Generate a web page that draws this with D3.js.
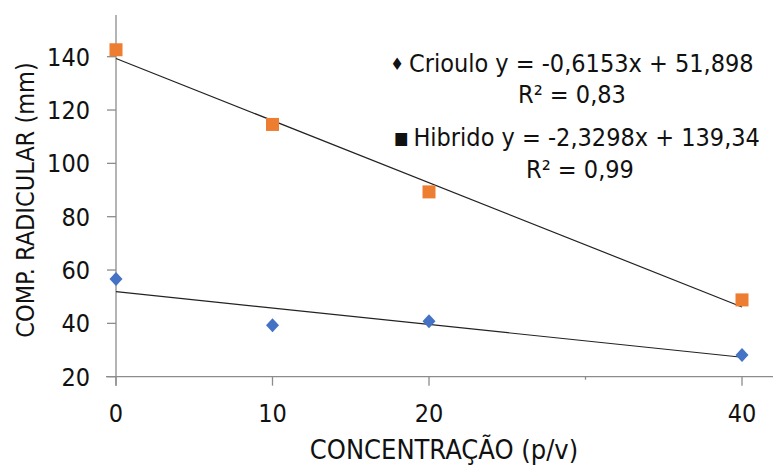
<!DOCTYPE html>
<html>
<head>
<meta charset="utf-8">
<script src="https://cdn.jsdelivr.net/npm/d3@7"></script>
<style>
  body { margin: 0; background: #fff; }
  svg text { font-family: "DejaVu Sans Condensed", "DejaVu Sans", sans-serif; fill: #111; }
</style>
</head>
<body>
<div id="graphArea"></div>
<script>
const width = 773, height = 466
// concentrations (p/v)
const concentracao = [0, 10, 20, 40]
const xTicks = [0, 10, 20, 30, 40]
const xLabels = ["0", "10", "20", "", "40"]
const yTicks = [20, 40, 60, 80, 100, 120, 140]
// measured root length (mm)
const crioulo = [56.6, 39.3, 40.8, 28.1]
const hibrido = [142.6, 114.6, 89.3, 48.8]
// trendline coefficients from the legend
const criouloFit = [-0.6153, 51.898]
const hibridoFit = [-2.3298, 139.34]
const legendSymbols = ["\u2666 ", "", "\u25a0 ", ""]
const legendLines = [
  "Crioulo y = -0,6153x + 51,898",
  "R\u00b2 = 0,83",
  "Hibrido y = -2,3298x + 139,34",
  "R\u00b2 = 0,99"
]

const svg = d3.select("#graphArea").append("svg")
  .attr("width", width)
  .attr("height", height)

const x = d3.scaleLinear().domain([0, 40]).range([116, 742])
const y = d3.scaleLinear().domain([20, 140]).range([376.7, 56.7])
const axisColor = "#8c8c8c"

// y axis
svg.append("line")
  .attr("x1", x(0)).attr("x2", x(0))
  .attr("y1", 15).attr("y2", y(20) + 9)
  .attr("stroke", axisColor).attr("stroke-width", 1.3)
svg.selectAll(".ytick").data(yTicks).enter().append("line")
  .attr("x1", x(0) - 9).attr("x2", x(0))
  .attr("y1", d => y(d)).attr("y2", d => y(d))
  .attr("stroke", axisColor).attr("stroke-width", 1.3)
svg.selectAll(".ylab").data(yTicks).enter().append("text")
  .attr("x", 90).attr("y", d => y(d) + 9)
  .attr("text-anchor", "end")
  .style("font-size", "25px")
  .text(d => d)

// x axis
svg.append("line")
  .attr("x1", x(0) - 10).attr("x2", width)
  .attr("y1", y(20)).attr("y2", y(20))
  .attr("stroke", axisColor).attr("stroke-width", 1.3)
svg.selectAll(".xtick").data(xTicks).enter().append("line")
  .attr("x1", d => x(d)).attr("x2", d => x(d))
  .attr("y1", y(20)).attr("y2", d => y(20) + (d === 30 ? 3 : 9))
  .attr("stroke", axisColor).attr("stroke-width", 1.3)
svg.selectAll(".xlab").data(xTicks).enter().append("text")
  .attr("x", d => x(d)).attr("y", 422)
  .attr("text-anchor", "middle")
  .style("font-size", "25px")
  .text((d, i) => xLabels[i])

// axis titles
svg.append("text")
  .attr("x", 444).attr("y", 459)
  .attr("text-anchor", "middle")
  .style("font-size", "27px")
  .text("CONCENTRA\u00c7\u00c3O (p/v)")
svg.append("text")
  .attr("transform", "translate(34,200) rotate(-90)")
  .attr("text-anchor", "middle")
  .style("font-size", "25px")
  .text("COMP. RADICULAR (mm)")

// trendlines
const fits = [criouloFit, hibridoFit]
svg.selectAll(".trend").data(fits).enter().append("line")
  .attr("x1", x(0)).attr("x2", x(40))
  .attr("y1", d => y(d[1])).attr("y2", d => y(d[0] * 40 + d[1]))
  .attr("stroke", "#222").attr("stroke-width", 1.2)

// markers
svg.selectAll(".sq").data(hibrido).enter().append("rect")
  .attr("x", (d, i) => x(concentracao[i]) - 6.5)
  .attr("y", d => y(d) - 6.5)
  .attr("width", 13).attr("height", 13)
  .attr("fill", "#ED7D31")
svg.selectAll(".dm").data(crioulo).enter().append("path")
  .attr("d", (d, i) => {
    const cx = x(concentracao[i]), cy = y(d)
    return `M${cx},${cy - 7}L${cx + 6.5},${cy}L${cx},${cy + 7}L${cx - 6.5},${cy}Z`
  })
  .attr("fill", "#4472C4")

// legend / equations
const legX = [572, 572, 577, 580]
const legY = [72, 103, 146, 178]
const leg = svg.selectAll(".leg").data(legendLines).enter().append("text")
  .attr("x", (d, i) => legX[i]).attr("y", (d, i) => legY[i])
  .attr("text-anchor", "middle")
  .style("font-size", "25px")
leg.append("tspan")
  .attr("dy", -2)
  .style("font-size", "17px")
  .text((d, i) => legendSymbols[i])
leg.append("tspan")
  .attr("dy", (d, i) => legendSymbols[i] ? 2 : 0)
  .text(d => d)
</script>
</body>
</html>
